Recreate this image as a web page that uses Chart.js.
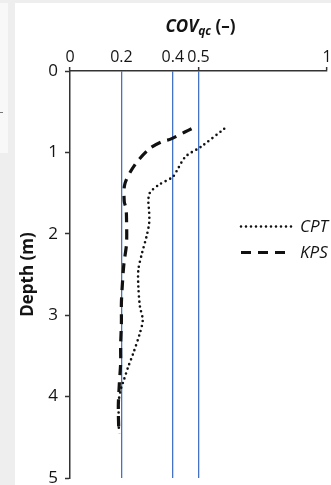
<!DOCTYPE html>
<html>
<head>
<meta charset="utf-8">
<script src="https://cdn.jsdelivr.net/npm/chart.js@4.4.1/dist/chart.umd.min.js"></script>
<style>
  html, body { margin: 0; padding: 0; }
  body { width: 331px; height: 485px; background: #eeeeee; position: relative; overflow: hidden; }
  #strip { position: absolute; left: 0; top: 3px; width: 8px; height: 150px; background: #f8f8f8; }
  #mark { position: absolute; left: 0; top: 112px; width: 3px; height: 1px; background: #777; }
  #box { position: absolute; left: 15px; top: 3px; width: 316px; height: 482px; background: #fff; }
</style>
</head>
<body>
<div id="strip"></div>
<div id="mark"></div>
<div id="box"><canvas id="myChart" width="316" height="482"></canvas></div>
<script>
var cptDepth = [0.71, 0.93, 1.05, 1.20, 1.30, 1.40, 1.50, 1.61, 1.73, 1.87, 2.03, 2.24, 2.44, 2.65, 2.89, 3.06, 3.22, 3.47, 3.63, 3.82, 3.88, 4.05, 4.41];
var cptCov   = [0.60, 0.51, 0.45, 0.42, 0.40, 0.345, 0.31, 0.305, 0.308, 0.308, 0.298, 0.28, 0.266, 0.266, 0.272, 0.283, 0.272, 0.246, 0.227, 0.207, 0.20, 0.19, 0.19];

var kpsDepth = [0.71, 0.75, 0.84, 0.86, 0.95, 1.15, 1.38, 1.60, 1.69, 1.83, 2.12, 2.36, 2.61, 2.85, 3.10, 3.37, 3.59, 3.84, 4.12, 4.45];
var kpsCov   = [0.473, 0.447, 0.389, 0.363, 0.311, 0.253, 0.214, 0.211, 0.218, 0.22, 0.22, 0.21, 0.204, 0.20, 0.20, 0.197, 0.197, 0.192, 0.188, 0.19];

var xTicks = [0, 0.2, 0.4, 0.5, 1];
var xTickMarks = [0, 0.5, 1];
var guideLines = [0.2, 0.4, 0.5];
var yTicks = [0, 1, 2, 3, 4, 5];

var ink = '#141414';
var blue = '#4472c4';
var font = '"Open Sans", sans-serif';

function pts(xs, ys) {
    return xs.map(function (v, i) { return { x: v, y: ys[i] }; });
}

// legenda uvnitř grafu
var legendPlugin = {
    id: 'innerLegend',
    afterDraw: function (chart) {
        var c = chart.ctx;
        chart.data.datasets.forEach(function (ds, i) {
            var y = 223.5 + i * 26;
            c.save();
            c.strokeStyle = ds.borderColor;
            c.lineWidth = ds.borderWidth;
            c.lineCap = ds.borderCapStyle;
            c.setLineDash(ds.borderDash);
            c.beginPath();
            c.moveTo(226, y);
            c.lineTo(277, y);
            c.stroke();
            c.setLineDash([]);
            c.fillStyle = ink;
            c.font = 'italic 17px ' + font;
            c.textBaseline = 'middle';
            c.fillText(ds.label, 285, y + 1);
            c.restore();
        });
    }
};

// název osy x s dolním indexem
var xTitlePlugin = {
    id: 'xTitle',
    afterDraw: function (chart) {
        var c = chart.ctx;
        var a = chart.chartArea;
        var f1 = 'italic bold 17px ' + font, f2 = 'italic bold 12px ' + font, f3 = 'bold 17px ' + font;
        c.save();
        c.font = f1; var w1 = c.measureText('COV').width;
        c.font = f2; var w2 = c.measureText('qc').width;
        c.font = f3; var w3 = c.measureText(' (\u2013)').width;
        var x = (a.left + a.right) / 2 + 2 - (w1 + w2 + w3) / 2;
        var y = 28.5;
        c.fillStyle = ink;
        c.textBaseline = 'alphabetic';
        c.font = f1; c.fillText('COV', x, y);
        c.font = f2; c.fillText('qc', x + w1, y + 3);
        c.font = f3; c.fillText(' (\u2013)', x + w1 + w2, y);
        c.restore();
    }
};

var ctx = document.getElementById('myChart').getContext('2d');
var myChart = new Chart(ctx, {
    type: 'scatter',
    data: {
        datasets: [{
            label: 'CPT',
            data: pts(cptCov, cptDepth),
            showLine: true,
            borderColor: '#111',
            borderWidth: 2.6,
            borderDash: [0, 5],
            borderCapStyle: 'round',
            pointRadius: 0,
            tension: 0.3
        }, {
            label: 'KPS',
            data: pts(kpsCov, kpsDepth),
            showLine: true,
            borderColor: '#111',
            borderWidth: 3.2,
            borderDash: [10, 7],
            borderCapStyle: 'butt',
            pointRadius: 0,
            tension: 0.3
        }]
    },
    options: {
        responsive: false,
        animation: false,
        layout: { padding: { left: 0, top: 0, right: 4, bottom: 7 } },
        plugins: { legend: { display: false }, tooltip: { enabled: false } },
        scales: {
            x: {
                type: 'linear',
                position: 'top',
                min: 0,
                max: 1,
                afterBuildTicks: function (scale) {
                    scale.ticks = xTicks.map(function (v) { return { value: v }; });
                },
                afterFit: function (scale) {
                    scale.height = 68;
                    scale.paddingLeft = 0;
                    scale.paddingRight = 0;
                },
                ticks: {
                    autoSkip: false,
                    maxRotation: 0,
                    padding: 0,
                    color: ink,
                    font: { family: font, size: 16 },
                    callback: function (v) { return String(v); }
                },
                grid: {
                    color: function (c) { return guideLines.indexOf(c.tick && c.tick.value) >= 0 ? blue : 'transparent'; },
                    lineWidth: 1.3,
                    tickColor: function (c) { return xTickMarks.indexOf(c.tick && c.tick.value) >= 0 ? '#333' : 'transparent'; },
                    tickLength: 4,
                    tickWidth: 1.5
                },
                border: { color: '#333', width: 1.5 }
            },
            y: {
                type: 'linear',
                reverse: true,
                min: 0,
                max: 5,
                afterBuildTicks: function (scale) {
                    scale.ticks = yTicks.map(function (v) { return { value: v }; });
                },
                afterFit: function (scale) {
                    scale.width = 55;
                    scale.paddingTop = 0;
                    scale.paddingBottom = 0;
                },
                ticks: {
                    padding: 7,
                    color: ink,
                    font: { family: font, size: 17 }
                },
                grid: {
                    drawOnChartArea: false,
                    tickColor: '#333',
                    tickLength: 5,
                    tickWidth: 1.5
                },
                border: { color: '#333', width: 1.5 },
                title: {
                    display: true,
                    text: 'Depth (m)',
                    color: ink,
                    padding: { top: 3, bottom: 0 },
                    font: { family: font, size: 17, weight: 'bold' }
                }
            }
        }
    },
    plugins: [legendPlugin, xTitlePlugin]
});
</script>
</body>
</html>
